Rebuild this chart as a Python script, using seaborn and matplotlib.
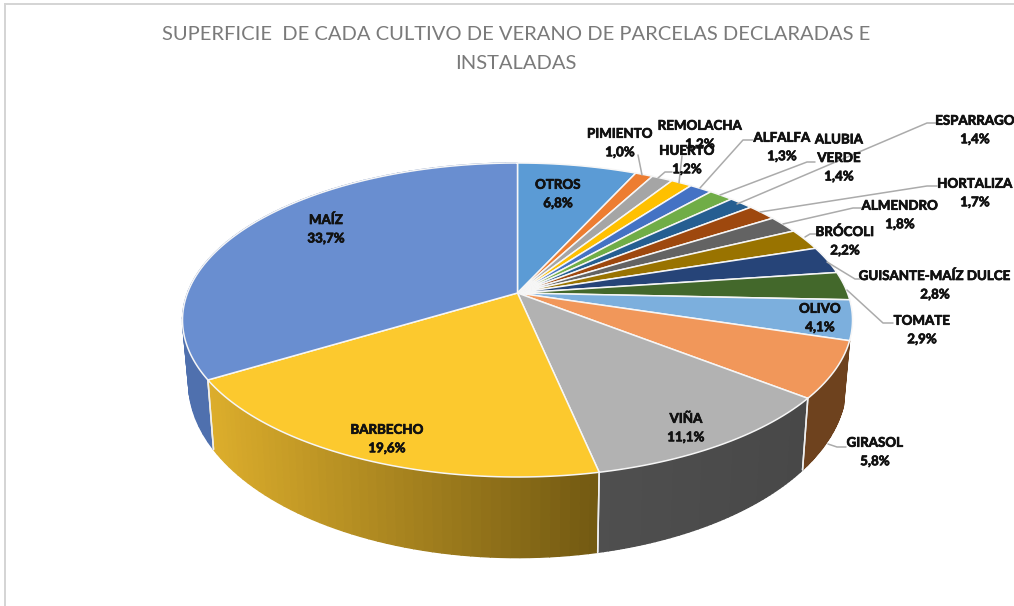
import numpy as np
import matplotlib
matplotlib.use("Agg")
import matplotlib.pyplot as plt
import matplotlib.patheffects as pe
import seaborn as sns
from matplotlib.path import Path
from matplotlib.transforms import Transform, Affine2D
from matplotlib.colors import to_rgb

# ---------- data ----------
categories = ["OTROS", "PIMIENTO", "REMOLACHA", "HUERTO", "ALFALFA", "ALUBIA\nVERDE",
              "ESPARRAGO", "HORTALIZA", "ALMENDRO", "BRÓCOLI", "GUISANTE-MAÍZ DULCE",
              "TOMATE", "OLIVO", "GIRASOL", "VIÑA", "BARBECHO", "MAÍZ"]
values = [6.8, 1.0, 1.2, 1.2, 1.3, 1.4, 1.4, 1.7, 1.8, 2.2, 2.8, 2.9, 4.1, 5.8, 11.1, 19.6, 33.7]
top_colors = ["#5B9BD5", "#ED7D31", "#A5A5A5", "#FFC000", "#4472C4", "#70AD47",
              "#255E91", "#9E480E", "#636363", "#997300", "#264478", "#43682B",
              "#7CAFDD", "#F1975A", "#B2B2B2", "#FCC92E", "#698ED0"]
title_text = "SUPERFICIE  DE CADA CULTIVO DE VERANO DE PARCELAS DECLARADAS E\nINSTALADAS"

# ---------- layout (pixels) ----------
W, H = 1014, 606
label_pos = {"OTROS": (558, 194), "PIMIENTO": (620, 143), "REMOLACHA": (700, 135), "HUERTO": (687, 160),
             "ALFALFA": (782, 147), "ALUBIA\nVERDE": (839, 158), "ESPARRAGO": (975, 130),
             "HORTALIZA": (975, 193), "ALMENDRO": (900, 215), "BRÓCOLI": (845, 241),
             "GUISANTE-MAÍZ DULCE": (935, 285), "TOMATE": (922, 330), "OLIVO": (820, 318),
             "GIRASOL": (875, 452), "VIÑA": (686, 428), "BARBECHO": (387, 439), "MAÍZ": (326, 229)}
leaders = [[(642, 175), (638, 155)],
           [(658, 178), (665, 172), (672, 172)],
           [(679, 183), (682, 156)],
           [(700, 188), (743, 140), (753, 140)],
           [(720, 195), (807, 162), (815, 162)],
           [(737, 204), (927, 123), (937, 123)],
           [(760, 212), (927, 186), (937, 186)],
           [(783, 224), (853, 208), (862, 208)],
           [(805, 237), (810, 234), (817, 234)],
           [(827, 262), (855, 279), (860, 279)],
           [(847, 290), (883, 323), (893, 323)],
           [(828, 444), (837, 447), (846, 447)]]


class Perspective(Transform):
    """Homography taking the unit pie disc to a pixel-space ellipse."""
    input_dims = output_dims = 2
    is_separable = False
    has_inverse = False

    def __init__(self, cx, y0, a, b, c, k=0.172):
        super().__init__()
        self.p = (cx, y0, a, b, c, k)

    def transform_non_affine(self, xy):
        cx, y0, a, b, c, k = self.p
        xy = np.asarray(xy, float)
        w = 1 + k * xy[:, 1]
        return np.column_stack([cx + a * xy[:, 0] / w, y0 - (b * xy[:, 1] + c) / w])

    def transform_path_non_affine(self, path):
        polys = path.to_polygons(transform=Affine2D().scale(2000), closed_only=False)
        return Path(self.transform_non_affine(np.vstack(polys) / 2000))


top_disc = Perspective(517.5, 320, 330, 157, 27)
bottom_disc = Perspective(517.5, 382.5, 324, 175, 30)

sns.set_theme(style="white")
plt.rcParams["font.family"] = ["Lato", "DejaVu Sans"]

fig = plt.figure(figsize=(W / 100, H / 100), dpi=100)
ax = fig.add_axes([5 / W, 0, 1 - 5 / W, 1 - 4 / H])
palette = sns.color_palette(top_colors)

# walls: strips from the pie's angular spans, shaded left to right
fractions = np.array(values) / np.sum(values)
edges = np.cumsum(np.r_[0, fractions])
angles = np.pi / 2 - 2 * np.pi * edges
wall_shades = {"MAÍZ": ("#4F70AE", "#4F70AE"), "BARBECHO": ("#DDAE2C", "#735A12"),
               "VIÑA": ("#4F4F4F", "#484848"), "GIRASOL": ("#6E421E", "#6E421E")}
for name in ["MAÍZ", "GIRASOL", "BARBECHO", "VIÑA"]:
    i = categories.index(name)
    c_left, c_right = (np.array(to_rgb(c)) for c in wall_shades[name])
    th = np.linspace(angles[i], angles[i + 1], 50)
    unit = np.column_stack([np.cos(th), np.sin(th)])
    t_pts, b_pts = top_disc.transform_non_affine(unit), bottom_disc.transform_non_affine(unit)
    xmin, xmax = t_pts[:, 0].min(), t_pts[:, 0].max()
    for j in range(len(th) - 1):
        f = (t_pts[j, 0] - xmin) / (xmax - xmin)
        col = c_left + (c_right - c_left) * f
        ax.fill([t_pts[j, 0], t_pts[j + 1, 0], b_pts[j + 1, 0], b_pts[j, 0]],
                [t_pts[j, 1], t_pts[j + 1, 1], b_pts[j + 1, 1], b_pts[j, 1]],
                color=col, lw=1.0, zorder=1)
    for e in (0, -1):
        if (name, e) in (("GIRASOL", 0), ("MAÍZ", -1)):
            continue
        ax.plot([t_pts[e, 0], b_pts[e, 0]], [t_pts[e, 1], b_pts[e, 1]], color="#EFEFEF", lw=1.1, zorder=1.6)

# top surface: the pie itself, bent through the perspective transform
ax.pie(values, colors=palette, startangle=90, counterclock=False, radius=1,
       wedgeprops=dict(transform=top_disc + ax.transData, edgecolor="#F6F6F6", linewidth=1.1, zorder=2))
ax.set_aspect("auto")
ax.set_xlim(5, W)
ax.set_ylim(H, 4)
ax.set_frame_on(True)
for side, spine in ax.spines.items():
    spine.set_visible(side in ("left", "top"))
    spine.set_color("#D4D4D4")
    spine.set_linewidth(1.4)

for pts in leaders:
    xs, ys = zip(*pts)
    ax.plot(xs, ys, color="#ABABAB", lw=1.1, zorder=3, solid_capstyle="round")

for name, val in zip(categories, values):
    x, y = label_pos[name]
    pct = f"{val:.1f}%".replace(".", ",")
    ax.text(x, y, f"{name}\n{pct}", ha="center", va="center", fontsize=9.6, fontweight="bold",
            color="#111111", linespacing=1.65, zorder=5,
            path_effects=[pe.withStroke(linewidth=0.5, foreground="#111111")])

ax.text(516, 49, title_text, ha="center", va="center", fontsize=14.5, color="#7A7A7A", linespacing=1.85)

fig.savefig("out.png", dpi=100, facecolor="white")
